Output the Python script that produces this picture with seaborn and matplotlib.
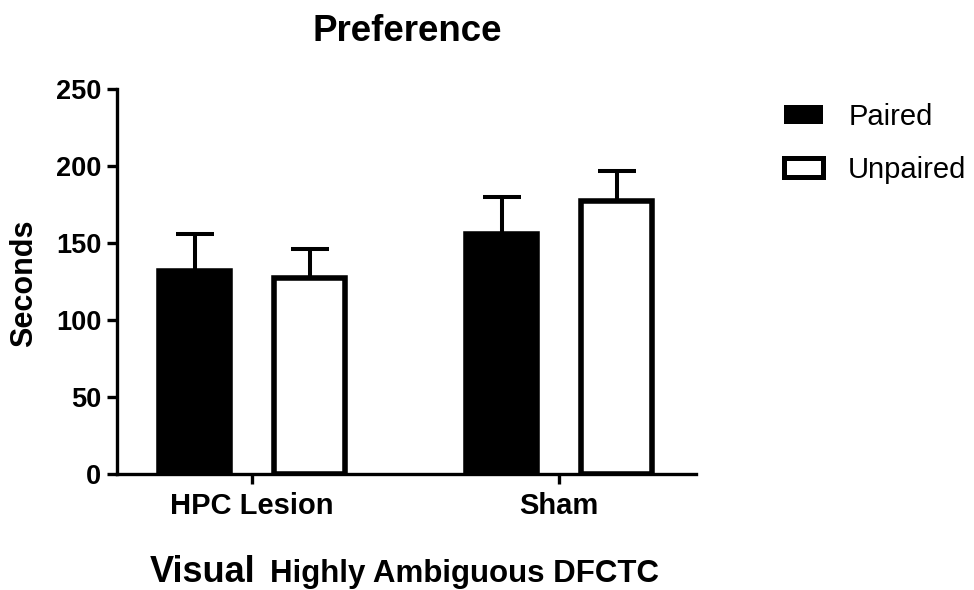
import matplotlib
matplotlib.use("Agg")
import matplotlib.pyplot as plt
import seaborn as sns
import pandas as pd
from matplotlib.patches import Patch

# ---- data ----
groups = ["HPC Lesion", "Sham"]
conditions = ["Paired", "Unpaired"]
paired_mean = [132, 156]
paired_sem = [24, 24]
unpaired_mean = [127, 177]
unpaired_sem = [19, 20]
y_ticks = [0, 50, 100, 150, 200, 250]

df = pd.DataFrame({
    "group": groups * 2,
    "condition": ["Paired"] * 2 + ["Unpaired"] * 2,
    "value": paired_mean + unpaired_mean,
})
sems = {"Paired": paired_sem, "Unpaired": unpaired_sem}

sns.set_theme(style="ticks")
plt.rcParams["font.family"] = ["Liberation Sans", "DejaVu Sans"]
plt.rcParams["text.color"] = "black"
plt.rcParams["axes.labelcolor"] = "black"
plt.rcParams["xtick.color"] = "black"
plt.rcParams["ytick.color"] = "black"

fig = plt.figure(figsize=(9.74, 5.9), dpi=100)
ax = fig.add_axes([117 / 974, 1 - 474 / 590, (695.7 - 117) / 974, (474 - 89) / 590])

sns.barplot(data=df, x="group", y="value", hue="condition", order=groups,
            hue_order=conditions,
            palette={"Paired": "black", "Unpaired": "white"},
            width=0.75, gap=0.384, edgecolor="black", linewidth=4.0,
            errorbar=None, legend=False, ax=ax, saturation=1)

# upward-only error bars (SEM)
for cond, cont in zip(conditions, ax.containers):
    for bar, s in zip(cont, sems[cond]):
        xc = bar.get_x() + bar.get_width() / 2
        h = bar.get_height()
        ax.errorbar([xc], [h], yerr=[[0], [s]], fmt="none", ecolor="black",
                    elinewidth=2.9, capsize=14, capthick=2.9, zorder=1)

ax.set_xlim(-0.44, 1.445)
ax.set_ylim(0, 250)
ax.set_yticks(y_ticks)
ax.set_yticklabels([str(t) for t in y_ticks], fontsize=19.5, fontweight="bold")
ax.set_xticks(range(len(groups)))
ax.set_xticklabels(groups, fontsize=21, fontweight="bold")
ax.set_xlabel("")
ax.set_ylabel("")
for side in ["top", "right"]:
    ax.spines[side].set_visible(False)
for side in ["left", "bottom"]:
    ax.spines[side].set_linewidth(2.4)
    ax.spines[side].set_color("black")
ax.tick_params(axis="y", length=7.2, width=2.4, pad=4, color="black")
ax.tick_params(axis="x", length=7.2, width=2.4, pad=6, color="black")

fig.text(407 / 974, 1 - 41 / 590, "Preference", ha="center", va="baseline",
         fontsize=26.5, fontweight="bold")
fig.text(24 / 974, 1 - 283.5 / 590, "Seconds", rotation=90, ha="center",
         va="center", fontsize=22, fontweight="bold")
fig.text(150 / 974, 1 - 581.7 / 590, "Visual", ha="left", va="baseline",
         fontsize=26, fontweight="bold")
fig.text(270 / 974, 1 - 581.7 / 590, "Highly Ambiguous DFCTC", ha="left",
         va="baseline", fontsize=22.5, fontweight="bold")

handles = [Patch(facecolor="black", edgecolor="black", linewidth=0),
           Patch(facecolor="white", edgecolor="black", linewidth=3.6)]
ax.legend(handles=handles, labels=conditions, loc="upper left",
          bbox_to_anchor=(784 / 974, 1 - 103 / 590), bbox_transform=fig.transFigure,
          frameon=False, fontsize=21, handlelength=1.35, handleheight=0.62,
          handletextpad=0.85, labelspacing=0.86, borderpad=0, borderaxespad=0)

fig.savefig("out.png", dpi=100)
